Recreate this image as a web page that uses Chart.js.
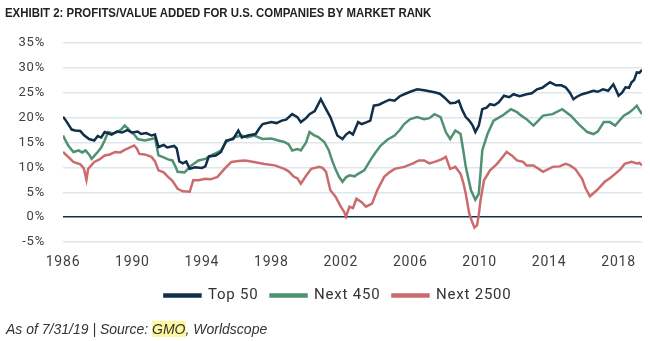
<!DOCTYPE html>
<html>
<head>
<meta charset="utf-8">
<script src="https://cdn.jsdelivr.net/npm/chart.js@4"></script>
<style>
  body { margin: 0; background: #fff; width: 650px; height: 341px; position: relative; overflow: hidden; }
  #title { position: absolute; left: 5px; top: 5px; font: bold 13px "Liberation Sans", Arial, sans-serif; color: #222; white-space: nowrap; transform: scaleX(0.878); transform-origin: 0 0; }
  #wrap { position: absolute; left: 0; top: 0; width: 650px; height: 341px; }
  #foot { position: absolute; left: 6px; top: 321px; font: italic 14px "Liberation Sans", Arial, sans-serif; color: #333; white-space: nowrap; }
  #foot span { background: #fdf7a0; }
</style>
</head>
<body>
<div id="wrap"><canvas id="myChart"></canvas></div>
<div id="title">EXHIBIT 2: PROFITS/VALUE ADDED FOR U.S. COMPANIES BY MARKET RANK</div>
<div id="foot">As of 7/31/19 | Source: <span>GMO</span>, Worldscope</div>
<script>
var xTicks = [1986, 1990, 1994, 1998, 2002, 2006, 2010, 2014, 2018];
var yTicks = [-5, 0, 5, 10, 15, 20, 25, 30, 35];

var top50Years = [1986.0, 1986.15, 1986.3, 1986.5, 1986.7, 1987.0, 1987.2, 1987.5, 1987.8, 1988.0, 1988.2, 1988.4, 1988.8, 1989.1, 1989.4, 1989.7, 1990.0, 1990.3, 1990.5, 1990.8, 1991.1, 1991.3, 1991.5, 1991.8, 1992.0, 1992.4, 1992.55, 1992.7, 1992.9, 1993.1, 1993.3, 1993.6, 1994.0, 1994.2, 1994.4, 1994.8, 1995.1, 1995.4, 1995.8, 1996.1, 1996.3, 1996.65, 1997.1, 1997.3, 1997.5, 1998.0, 1998.3, 1998.6, 1998.85, 1999.2, 1999.5, 1999.7, 2000.0, 2000.2, 2000.5, 2000.85, 2001.15, 2001.4, 2001.8, 2002.1, 2002.3, 2002.5, 2002.7, 2003.0, 2003.2, 2003.5, 2003.7, 2003.9, 2004.2, 2004.5, 2004.8, 2005.1, 2005.4, 2005.65, 2006.0, 2006.4, 2006.8, 2007.1, 2007.4, 2007.7, 2007.95, 2008.3, 2008.6, 2008.8, 2009.0, 2009.2, 2009.4, 2009.6, 2009.75, 2009.95, 2010.15, 2010.4, 2010.6, 2010.85, 2011.1, 2011.4, 2011.7, 2011.95, 2012.3, 2012.7, 2013.0, 2013.3, 2013.6, 2014.05, 2014.4, 2014.7, 2014.95, 2015.2, 2015.4, 2015.6, 2015.9, 2016.2, 2016.55, 2016.8, 2017.1, 2017.4, 2017.7, 2017.85, 2018.0, 2018.2, 2018.4, 2018.6, 2018.75, 2018.9, 2019.05, 2019.2, 2019.35];
var top50 = [20.2, 19.5, 18.7, 17.6, 17.4, 17.3, 16.5, 15.7, 15.4, 16.3, 16.0, 17.1, 16.6, 17.2, 17.0, 17.5, 17.0, 17.2, 16.7, 16.9, 16.4, 16.6, 14.1, 14.5, 14.0, 14.3, 13.8, 11.2, 10.8, 11.2, 9.7, 10.0, 9.9, 10.2, 12.2, 12.4, 13.1, 15.4, 15.7, 17.4, 16.0, 16.4, 16.7, 17.8, 18.7, 19.1, 18.9, 19.4, 19.6, 20.7, 20.1, 19.1, 19.9, 20.7, 21.3, 23.7, 21.7, 20.1, 16.4, 15.7, 16.6, 17.1, 16.6, 19.1, 18.7, 19.1, 19.4, 22.4, 22.6, 23.1, 23.6, 23.4, 24.3, 24.7, 25.2, 25.7, 25.5, 25.3, 25.1, 24.8, 24.1, 22.9, 23.0, 23.4, 21.5, 20.1, 19.4, 18.4, 17.1, 18.4, 21.7, 22.0, 22.7, 22.5, 23.1, 24.4, 24.1, 24.7, 24.3, 24.7, 24.9, 25.7, 26.0, 27.1, 26.5, 26.5, 26.1, 25.0, 23.7, 24.2, 24.7, 25.0, 25.4, 25.2, 25.7, 25.4, 26.7, 25.6, 24.4, 25.0, 26.1, 26.0, 27.1, 27.6, 29.1, 29.0, 29.6];

var next450Years = [1986.0, 1986.3, 1986.6, 1986.9, 1987.1, 1987.3, 1987.5, 1987.65, 1988.0, 1988.2, 1988.4, 1988.6, 1988.9, 1989.1, 1989.35, 1989.55, 1989.75, 1989.9, 1990.1, 1990.3, 1990.7, 1991.1, 1991.3, 1991.5, 1991.8, 1992.05, 1992.3, 1992.5, 1992.6, 1993.0, 1993.4, 1993.8, 1994.2, 1994.55, 1994.9, 1995.1, 1995.4, 1995.9, 1996.3, 1996.6, 1997.0, 1997.5, 1998.0, 1998.4, 1998.75, 1999.0, 1999.2, 1999.5, 1999.7, 2000.0, 2000.2, 2000.45, 2000.7, 2001.05, 2001.3, 2001.5, 2001.7, 2001.9, 2002.1, 2002.3, 2002.5, 2002.8, 2003.0, 2003.35, 2003.75, 2004.0, 2004.3, 2004.7, 2005.1, 2005.4, 2005.65, 2006.0, 2006.4, 2006.8, 2007.1, 2007.4, 2007.75, 2008.05, 2008.3, 2008.6, 2008.9, 2009.05, 2009.2, 2009.5, 2009.75, 2009.95, 2010.05, 2010.15, 2010.45, 2010.8, 2011.3, 2011.8, 2012.15, 2012.4, 2012.7, 2013.1, 2013.35, 2013.65, 2014.2, 2014.75, 2015.25, 2015.7, 2016.2, 2016.55, 2016.8, 2017.15, 2017.5, 2017.8, 2018.3, 2018.6, 2018.85, 2019.05, 2019.2, 2019.35];
var next450 = [16.4, 14.4, 13.1, 13.4, 13.0, 13.4, 12.6, 11.7, 13.1, 14.0, 15.4, 17.1, 16.8, 17.1, 17.6, 18.4, 17.8, 17.1, 16.6, 15.7, 15.4, 15.7, 15.9, 12.4, 12.0, 11.6, 11.4, 10.0, 9.1, 9.0, 10.4, 11.4, 11.7, 12.4, 13.0, 13.4, 15.1, 16.1, 16.4, 16.0, 16.4, 15.7, 15.8, 15.4, 15.1, 14.6, 13.4, 13.7, 13.4, 15.0, 17.1, 16.5, 16.1, 15.1, 13.5, 11.4, 9.6, 8.1, 7.1, 8.0, 8.4, 8.2, 8.7, 9.4, 11.7, 13.0, 14.4, 15.6, 16.4, 17.5, 18.7, 19.7, 20.1, 19.7, 19.9, 20.7, 20.1, 17.1, 15.7, 17.4, 16.7, 13.5, 10.1, 5.4, 3.5, 4.7, 9.0, 13.4, 16.7, 19.4, 20.4, 21.7, 21.1, 20.4, 19.7, 18.4, 19.3, 20.4, 20.7, 21.7, 20.4, 18.7, 17.1, 16.7, 17.2, 19.1, 19.1, 18.4, 20.4, 21.0, 21.7, 22.4, 21.5, 20.7];

var next2500Years = [1986.0, 1986.3, 1986.6, 1987.0, 1987.2, 1987.35, 1987.45, 1987.8, 1988.1, 1988.4, 1988.7, 1989.0, 1989.3, 1989.55, 1989.8, 1990.1, 1990.25, 1990.4, 1990.7, 1991.1, 1991.3, 1991.5, 1991.8, 1992.05, 1992.3, 1992.6, 1992.9, 1993.3, 1993.5, 1993.8, 1994.2, 1994.5, 1994.9, 1995.3, 1995.7, 1996.1, 1996.5, 1997.0, 1997.6, 1998.2, 1998.75, 1999.0, 1999.3, 1999.5, 1999.7, 2000.0, 2000.3, 2000.75, 2000.95, 2001.15, 2001.4, 2001.7, 2002.0, 2002.2, 2002.3, 2002.5, 2002.7, 2002.9, 2003.2, 2003.45, 2003.8, 2004.1, 2004.5, 2004.8, 2005.1, 2005.65, 2006.1, 2006.5, 2006.8, 2007.1, 2007.4, 2007.8, 2008.05, 2008.3, 2008.6, 2008.9, 2009.05, 2009.2, 2009.4, 2009.55, 2009.7, 2009.85, 2009.95, 2010.05, 2010.25, 2010.6, 2011.0, 2011.3, 2011.55, 2011.85, 2012.15, 2012.5, 2012.7, 2013.1, 2013.65, 2014.2, 2014.6, 2014.95, 2015.2, 2015.5, 2015.9, 2016.1, 2016.35, 2016.75, 2017.2, 2017.5, 2017.8, 2018.1, 2018.35, 2018.75, 2019.05, 2019.2, 2019.35];
var next2500 = [13.1, 12.1, 11.1, 10.6, 9.8, 7.5, 9.7, 11.1, 11.6, 12.4, 12.6, 13.1, 13.0, 13.5, 13.9, 14.4, 13.8, 12.7, 12.6, 12.1, 11.2, 9.4, 9.0, 8.1, 7.3, 5.7, 5.2, 5.1, 7.4, 7.4, 7.7, 7.6, 8.1, 9.7, 11.1, 11.3, 11.4, 11.1, 10.7, 10.4, 9.7, 9.2, 8.1, 7.8, 6.7, 8.3, 9.7, 10.1, 9.9, 9.1, 5.4, 4.1, 2.1, 1.0, 0.1, 2.1, 1.8, 3.7, 3.0, 2.1, 2.7, 5.4, 8.1, 9.0, 9.7, 10.1, 10.7, 11.4, 11.4, 10.8, 11.1, 11.6, 12.1, 9.7, 10.1, 8.7, 7.0, 4.7, 0.7, -0.8, -2.1, -1.6, 0.5, 3.4, 7.4, 9.4, 10.7, 12.0, 13.1, 12.4, 11.4, 11.1, 10.4, 10.4, 9.1, 10.1, 10.2, 10.7, 10.4, 9.7, 7.7, 5.8, 4.2, 5.4, 7.1, 7.8, 8.7, 9.6, 10.7, 11.1, 10.8, 10.9, 10.4];

function pts(xs, ys) {
    return xs.map(function (x, i) { return {x: x, y: ys[i]}; });
}

// slightly spaced lettering like the original, legend nudged right and down
var tweaks = {
    id: 'tweaks',
    beforeUpdate: function (chart) { chart.ctx.letterSpacing = '0.8px'; },
    afterLayout: function (chart) {
        chart.legend.left += 17;
        chart.legend.right += 17;
        chart.legend.top += 8;
        chart.legend.bottom += 8;
    },
    beforeDraw: function (chart) { chart.ctx.letterSpacing = '0.8px'; }
};

var ctx = document.getElementById("myChart");
var myChart = new Chart(ctx, {
    type: 'line',
    data: {
        datasets: [{
            label: "Top 50",
            borderColor: "#0f2f4a",
            backgroundColor: "#0f2f4a",
            data: pts(top50Years, top50)
        }, {
            label: "Next 450",
            borderColor: "#4f9171",
            backgroundColor: "#4f9171",
            data: pts(next450Years, next450)
        }, {
            label: "Next 2500",
            borderColor: "#cc6b6d",
            backgroundColor: "#cc6b6d",
            data: pts(next2500Years, next2500)
        }]
    },
    options: {
        responsive: true,
        maintainAspectRatio: false,
        animation: false,
        layout: {padding: {top: 43, right: 8, left: 0, bottom: 36}},
        elements: {
            point: {radius: 0},
            line: {borderWidth: 2.5, tension: 0}
        },
        scales: {
            x: {
                type: 'linear',
                min: 1986,
                max: 2019.35,
                afterBuildTicks: function (s) { s.ticks = xTicks.map(function (v) { return {value: v}; }); },
                afterFit: function (s) { s.height = 26; },
                grid: {display: false, drawTicks: false},
                border: {display: false},
                ticks: {
                    color: '#404040',
                    padding: 12,
                    maxRotation: 0,
                    font: {family: 'Roboto', size: 14},
                    callback: function (v) { return String(v); }
                }
            },
            y: {
                min: -5,
                max: 35,
                afterBuildTicks: function (s) { s.ticks = yTicks.map(function (v) { return {value: v}; }); },
                afterFit: function (s) { s.width = 63; },
                border: {display: false},
                grid: {
                    drawTicks: false,
                    lineWidth: 1.5,
                    color: function (c) { return c.tick && c.tick.value === 0 ? '#0f2f4a' : '#dde7ee'; }
                },
                ticks: {
                    color: '#404040',
                    padding: 18,
                    font: {family: 'Roboto', size: 13},
                    callback: function (v) { return v + '%'; }
                }
            }
        },
        plugins: {
            legend: {
                position: 'bottom',
                labels: {
                    boxWidth: 36,
                    boxHeight: 2,
                    padding: 12,
                    color: '#333',
                    font: {family: 'Roboto', size: 15}
                }
            },
            tooltip: {enabled: false}
        }
    },
    plugins: [tweaks]
});
</script>
</body>
</html>
